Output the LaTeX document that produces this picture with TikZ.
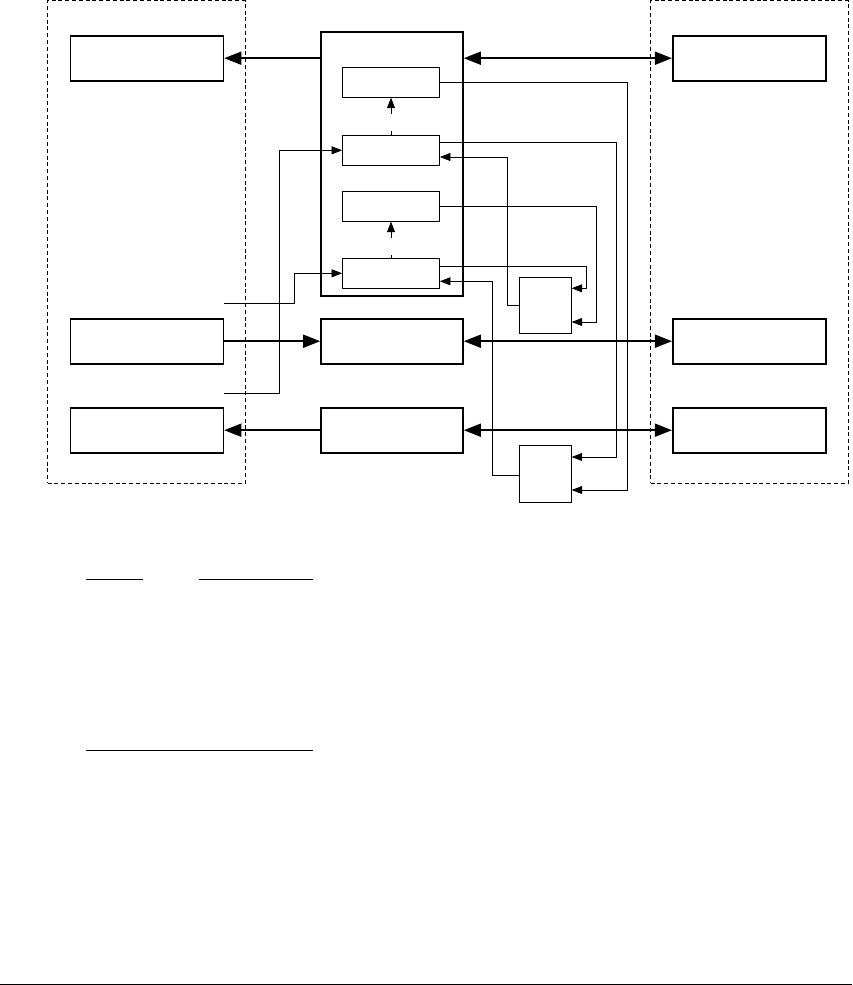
\documentclass[tikz,border=0pt]{standalone}
\usetikzlibrary{arrows.meta}

\begin{document}
\begin{tikzpicture}[x=1pt, y=-1pt,
    unit/.style={draw, rectangle, line width=1.7pt, inner sep=0pt, minimum width=153pt, minimum height=45pt},
    stage/.style={draw, rectangle, line width=0.8pt, inner sep=0pt, minimum width=97pt, minimum height=30pt},
    group/.style={draw, rectangle, line width=0.8pt, dash pattern=on 4pt off 2.8pt, inner sep=0pt, minimum width=198pt, minimum height=482.5pt},
    bus/.style={line width=1.7pt, >={Triangle[length=17pt,width=13pt]}},
    sig/.style={line width=0.7pt, >={Triangle[length=10.5pt,width=8pt]}}]
      \useasboundingbox (0,0) rectangle (852,985);

      % Dashed groups
      \node (Lgrp) [group] at (146.5,241.8) {};
      \node (Rgrp) [group] at (749.5,241.9) {};

      % Outer units
      \foreach \y/\n in {58.2/1, 341.2/2, 430.2/3} {
          \node (L\n) [unit] at (146.9,\y) {};
          \node (R\n) [unit] at (749.3,\y) {};
        }

      % Core and its stages
      \node (core) [draw, rectangle, line width=1.7pt, inner sep=0pt, minimum width=142pt, minimum height=263.7pt] at (392,163.9) {};
      \foreach \y/\n in {82.3/A, 150.3/B, 206.3/C, 273.3/D} {
          \node (\n) [stage] at (391,\y) {};
        }

      % Middle units
      \foreach \y/\n in {341.2/2, 430.2/3} {
          \node (M\n) [unit, minimum width=142pt] at (392,\y) {};
        }

      % Small blocks
      \node (S1) [stage, minimum width=52pt, minimum height=56pt] at (545.3,305.3) {};
      \node (S2) [stage, minimum width=52pt, minimum height=57pt] at (545.3,473.8) {};

      % Bus arrows
      \draw[bus,->] (core.west |- L1.east) -- (L1.east);
      \draw[bus,<->] (core.east |- R1.west) -- (R1.west);
      \draw[bus,->] (L2.east) -- (M2.west);
      \draw[bus,<->] (M2.east) -- (R2.west);
      \draw[bus,->] (M3.west) -- (L3.east);
      \draw[bus,<->] (M3.east) -- (R3.west);

      % Stage to stage
      \draw[sig,<-,dash pattern=on 6pt off 17pt] (A.south) -- (B.north);
      \draw[sig,<-,dash pattern=on 6pt off 17pt] (C.south) -- (D.north);

      % Signal lines
      \draw[sig,->] (A.east) -- ++(187.6,0) |- ([yshift=-16.2pt]S2.east);
      \draw[sig,->] ([yshift=8pt]B.east) -- ++(176.3,0) |- ([yshift=16.8pt]S2.east);
      \draw[sig,->] (S1.west) -- ++(-11.6,0) |- ([yshift=-6.7pt]B.east);
      \draw[sig,->] (C.east) -- ++(156.6,0) |- ([yshift=-16.7pt]S1.east);
      \draw[sig,->] ([yshift=7.3pt]D.east) -- ++(146.6,0) |- ([yshift=17pt]S1.east);
      \draw[sig,->] ([yshift=-1.5pt]S2.west) -- ++(-27,0) |- ([yshift=-8pt]D.east);

      % Inputs from the left
      \coordinate (inD) at (224,303.3);
      \coordinate (inB) at (224,393.3);
      \draw[sig,->] (inD) -- ++(70.7,0) |- (D.west);
      \draw[sig,->] (inB) -- ++(55.3,0) |- (B.west);

      % Rules
      \draw[line width=1.1pt] (86,579.3) -- (142.7,579.3);
      \draw[line width=1.1pt] (199.3,579.3) -- (312.7,579.3);
      \draw[line width=1.1pt] (86,750.7) -- (312.7,750.7);
      \draw[line width=1.3pt] (0,984.3) -- (852,984.3);
    \end{tikzpicture}
\end{document}
